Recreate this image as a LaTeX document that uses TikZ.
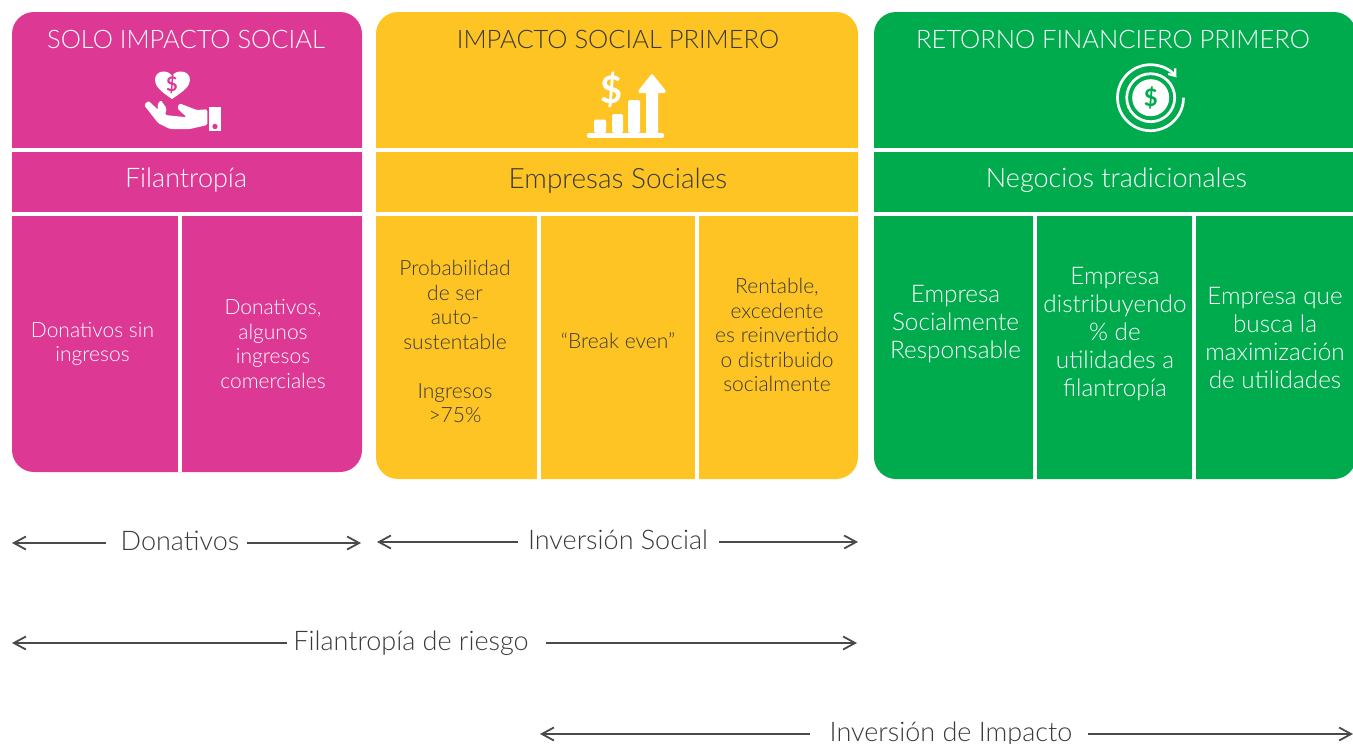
\documentclass[tikz,border=0pt]{standalone}
\usepackage{fontspec}
\setmainfont{Lato}[UprightFont=* Light,BoldFont=* Bold]
\usetikzlibrary{arrows.meta,positioning}
\definecolor{magenta1}{HTML}{DC3894}
\definecolor{amarillo}{HTML}{FEC423}
\definecolor{verde}{HTML}{00AB4E}
\definecolor{oscuro}{HTML}{3A3A3A}
\definecolor{flechagris}{HTML}{4A4A4A}

\begin{document}
\begin{tikzpicture}[x=1pt,y=-1pt,on grid,>={Straight Barb[length=12pt,width=13pt,line width=1.8pt]},
	titulo/.style={font=\fontsize{25.5}{30}\selectfont,align=center},
	sub/.style={font=\fontsize{27}{30}\selectfont,align=center},
	celda/.style={font=\fontsize{21}{24.5}\selectfont,align=center},
	celdag/.style={font=\fontsize{24.3}{28}\selectfont,align=center},
	rango/.style={font=\fontsize{27}{30}\selectfont,text=oscuro,inner xsep=0pt,inner ysep=2pt},
	panel/.style={rounded corners=22pt},
	corte/.style={white,line width=4pt}]
	\useasboundingbox (0,0) rectangle (1353,744);

	% paneles
	\fill[panel,magenta1] (12,12) rectangle (362,472);
	\fill[panel,amarillo] (376,12) rectangle (858,479);
	\fill[panel,verde] (874,12) rectangle (1356,479);
	\draw[corte] (12,150) -- (362,150) (12,214) -- (362,214) (180,214) -- (180,472);
	\draw[corte] (376,150) -- (858,150) (376,214) -- (858,214) (539,214) -- (539,479) (697,214) -- (697,479);
	\draw[corte] (874,150) -- (1353,150) (874,214) -- (1353,214) (1035,214) -- (1035,479) (1194,214) -- (1194,479);

	% solo impacto social
	\node[titulo,text=white]	(solo) at (186,39)	{SOLO IMPACTO SOCIAL};
	\node[sub,text=white]		(filan) [below =141.5pt of solo]	{Filantrop\'ia};
	\node[celda,text=white]		(sinIng) [below left =163.5pt and 93.5pt of filan]	{Donativos sin\\ingresos};
	\node[celda,text=white]		(algIng) [below right =163.5pt and 87pt of filan]	{Donativos,\\algunos\\ingresos\\comerciales};

	% impacto social primero
	\node[titulo,text=oscuro]	(impacto) at (618,39)	{IMPACTO SOCIAL PRIMERO};
	\node[sub,text=oscuro,font=\fontsize{28}{30}\selectfont]		(empSoc) [below =141.5pt of impacto]	{Empresas Sociales};
	\node[celda,text=oscuro]	(prob) [below left =161pt and 163pt of empSoc]	{Probabilidad\\de ser\\auto-\\sustentable\\[24.5pt]Ingresos\\>75\%};
	\node[celda,text=oscuro]	(even) [below =160.5pt of empSoc]	{``Break even''};
	\node[celda,text=oscuro]	(rent) [below right =154.5pt and 159pt of empSoc]	{Rentable,\\excedente\\es reinvertido\\o distribuido\\socialmente};

	% retorno financiero primero
	\node[titulo,text=white]	(retorno) at (1113,39)	{RETORNO FINANCIERO PRIMERO};
	\node[sub,text=white]		(negocios) [below right =141.5pt and 3.5pt of retorno]	{Negocios tradicionales};
	\node[celdag,text=white]	(resp) [below left =143.5pt and 161pt of negocios]	{Empresa\\Socialmente\\Responsable};
	\node[celdag,text=white]	(dist) [below left =153.5pt and 1.5pt of negocios]	{Empresa\\distribuyendo\\\% de\\utilidades a\\filantrop\'ia};
	\node[celdag,text=white]	(busca) [below right =157.5pt and 158.5pt of negocios]	{Empresa que\\busca la\\maximizaci\'on\\de utilidades};

	% iconos
	\fill[white] (172,99) .. controls (160,91) and (155,86) .. (155,80) .. controls (155,70) and (168,69) .. (172,76) .. controls (176,69) and (190,70) .. (190,80) .. controls (190,86) and (184,91) .. (172,99) -- cycle;
	\node[font=\bfseries\fontsize{20}{20}\selectfont,text=magenta1,inner sep=0pt] (pesoA) at (172,84.5) {\$};
	\fill[white,rounded corners=1.5pt] (144,105) -- (148.3,100.7) -- (158.3,110) -- (157.3,105) -- (160.7,100) -- (166.7,108.3) -- (165,115) -- (186.7,117.3) -- (177.3,108.3) -- (179.3,103.3) -- (196.7,110) -- (207.3,109.3) -- (207.3,125) -- (190,129) -- (170,129) -- (158.3,123.3) -- cycle;
	\fill[white] (209,106.5) rectangle (221,131);
	\fill[magenta1] (215,126.5) circle (2.7pt);

	\fill[white,rounded corners=1.5pt] (594,133) rectangle (606,119.5);
	\fill[white,rounded corners=1.5pt] (612,133) rectangle (623,114);
	\fill[white,rounded corners=1.5pt] (628,133) rectangle (640,100);
	\fill[white] (646,133) -- (646,93) -- (639,93) [rounded corners=1pt] -- (638,91) -- (652,73.5) -- (666,91) -- (665,93) [sharp corners] -- (658,93) -- (658,133) -- cycle;
	\draw[white,line width=4.5pt,line cap=round] (589,135.5) -- (662,135.5);
	\node[font=\bfseries\fontsize{38}{38}\selectfont,text=white,inner sep=0pt] (pesoB) at (612,90) {\$};

	\fill[white] (1150.7,97.7) circle (18.5pt);
	\draw[white,line width=2.7pt] (1150.7,97.7) circle (24pt);
	\node[font=\bfseries\fontsize{24}{24}\selectfont,text=verde,inner sep=0pt] (pesoC) at (1150.7,97.7) {\$};
	\draw[white,line width=2.7pt,-{Straight Barb[length=6pt,width=9pt,line width=2.2pt]}] (1183.5,97.7) arc (-360:-38:33);

	% rangos
	\node[rango] (donat) at (180,541) {Donativos};
	\coordinate (donatI) at (12,543);
	\coordinate (donatD) at (361,543);
	\node[rango] (invSoc) at (618,540) {Inversi\'on Social};
	\coordinate (invSocI) at (377,542);
	\coordinate (invSocD) at (858,542);
	\node[rango] (riesgo) at (411,643) {Filantrop\'ia de riesgo};
	\coordinate (riesgoI) at (12,643);
	\coordinate (riesgoD) at (857,643);
	\node[rango] (invImp) at (951,734) {Inversi\'on de Impacto};
	\coordinate (invImpI) at (540,734);
	\coordinate (invImpD) at (1353,734);

	\tikzset{flecha/.style={->,flechagris,line width=1.8pt}}
	\draw[flecha] ([xshift=-14pt]donat.west |- donatI) -- (donatI);
	\draw[flecha] ([xshift=7pt]donat.east |- donatD) -- (donatD);
	\draw[flecha] ([xshift=-10pt]invSoc.west |- invSocI) -- (invSocI);
	\draw[flecha] ([xshift=11pt]invSoc.east |- invSocD) -- (invSocD);
	\draw[flecha] ([xshift=-6pt]riesgo.west |- riesgoI) -- (riesgoI);
	\draw[flecha] ([xshift=17pt]riesgo.east |- riesgoD) -- (riesgoD);
	\draw[flecha] ([xshift=-19pt]invImp.west |- invImpI) -- (invImpI);
	\draw[flecha] ([xshift=15pt]invImp.east |- invImpD) -- (invImpD);
\end{tikzpicture}
\end{document}
